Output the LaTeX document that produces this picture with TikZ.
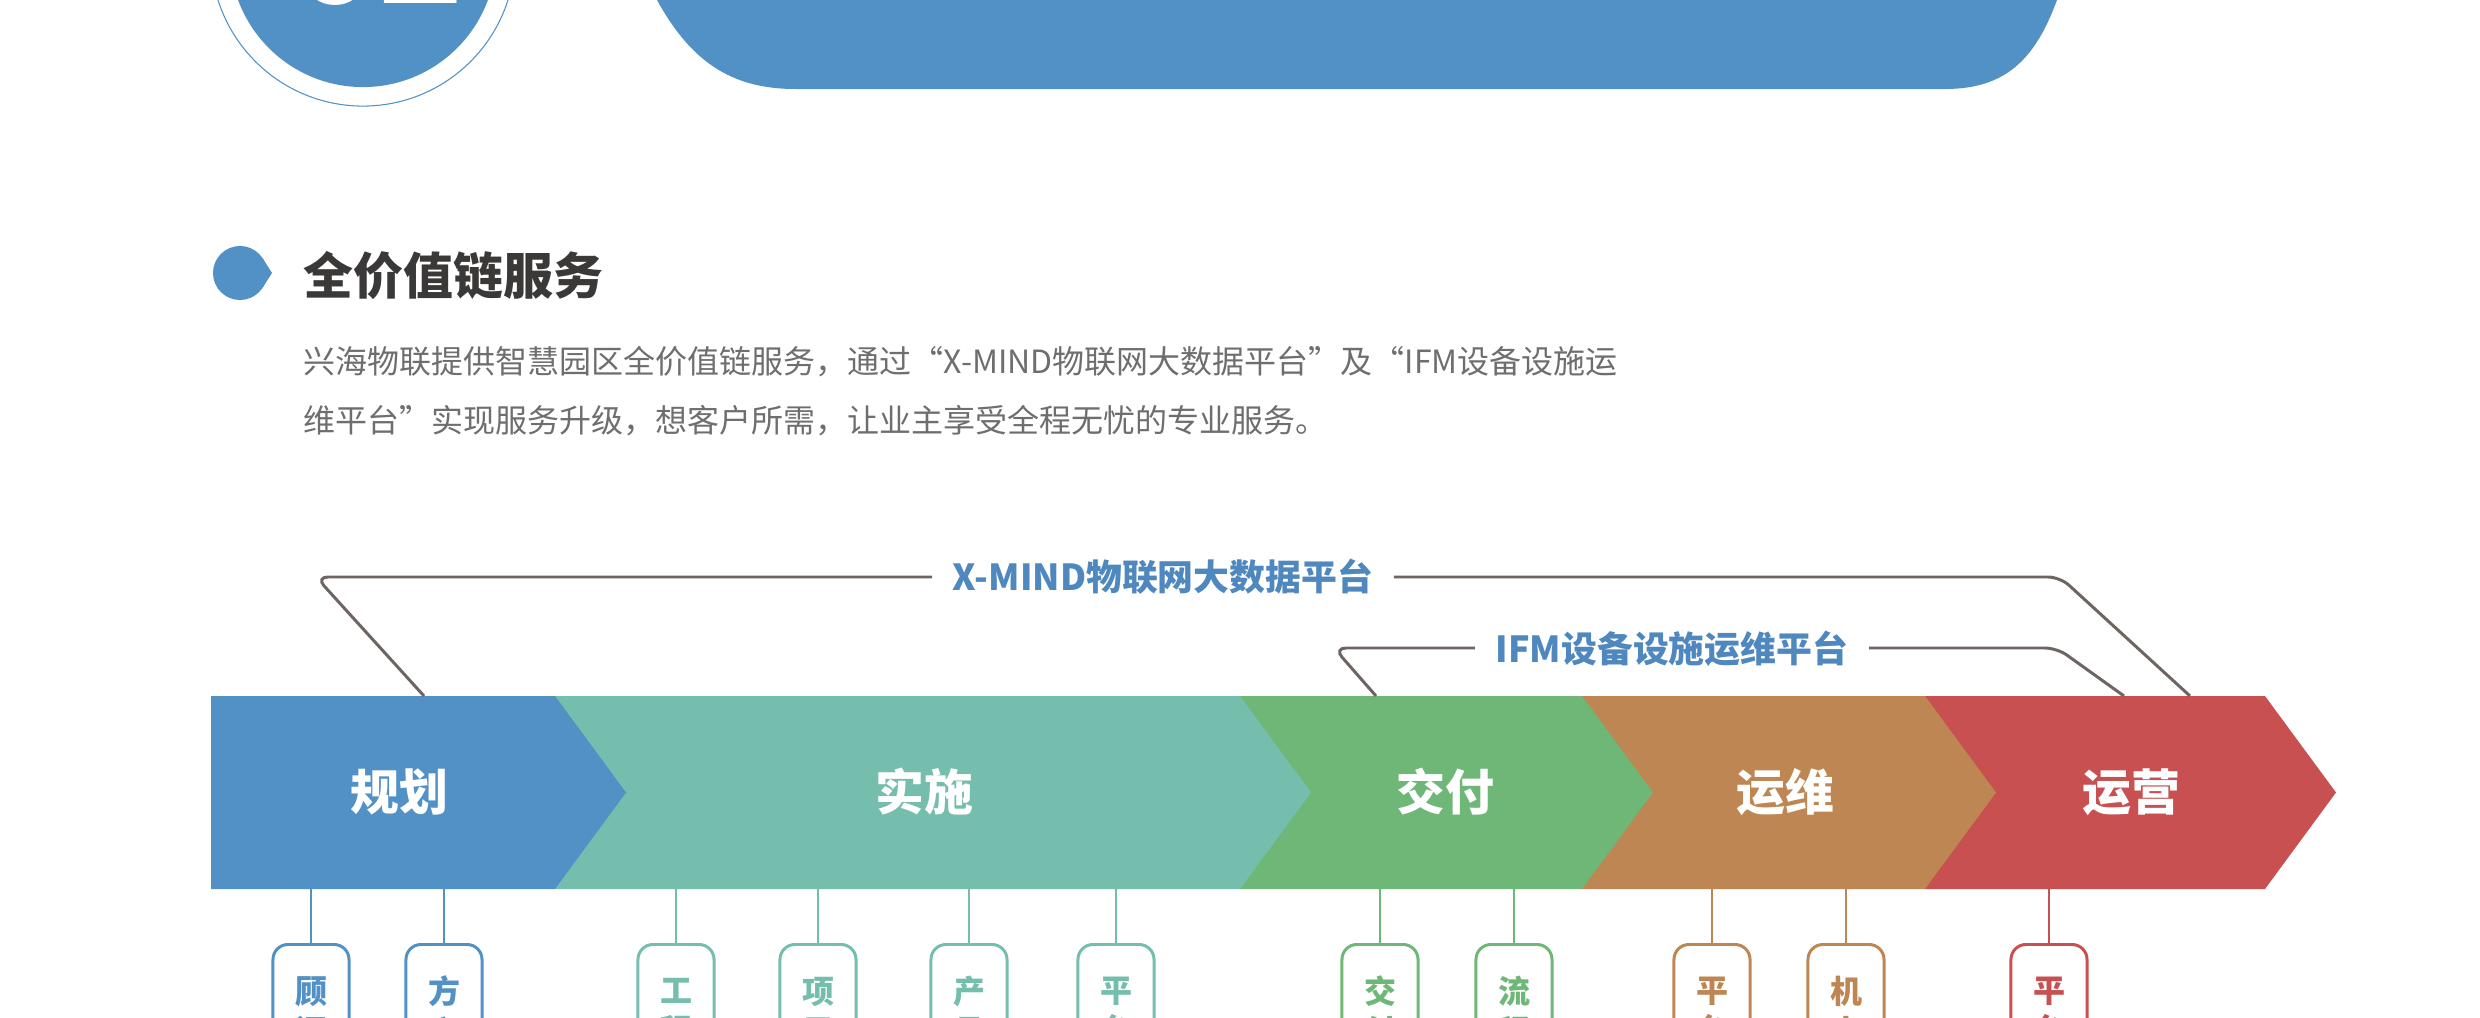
\documentclass[tikz,border=0pt]{standalone}
\usepackage{fontspec}
\setmainfont{Noto Sans CJK SC}
\definecolor{cblue}{HTML}{5291C5}
\definecolor{cteal}{HTML}{75BEAD}
\definecolor{cgreen}{HTML}{6FB777}
\definecolor{cbrown}{HTML}{BE8652}
\definecolor{cred}{HTML}{C85050}
\definecolor{cline}{HTML}{6E6562}
\definecolor{ctitle}{HTML}{3B3838}
\definecolor{ctext}{HTML}{6E6E6E}
\definecolor{ctop}{HTML}{4F88BE}
\begin{document}
\begin{tikzpicture}[x=0.01cm,y=-0.01cm,
  barlabel/.style={text=white,font=\fontsize{13.9}{16}\selectfont\bfseries,inner sep=0pt},
  toplabel/.style={text=ctop,font=\fontsize{10.2}{12}\selectfont\bfseries,inner ysep=0pt,inner xsep=0.2cm},
  platline/.style={draw=cline,line width=0.85pt,rounded corners=0.12cm},
  subbox/.style={draw=#1,text=#1,line width=0.85pt,rounded corners=0.15cm,minimum width=0.76cm,minimum height=1.34cm,anchor=north,align=center,font=\fontsize{9.1}{11.4}\selectfont\bfseries,inner sep=0pt},
  subline/.style={draw=#1,line width=0.6pt},
  paratext/.style={text=ctext,font=\fontsize{9.1}{11}\selectfont,anchor=west,inner sep=0pt}]
\useasboundingbox (0,0) rectangle (2480,1018);
\clip (0,0) rectangle (2480,1018);
\fill[white] (0,0) rectangle (2480,1018);
% header badge
\draw[cblue,line width=0.3pt] (363,-46) circle[radius=1.52cm];
\fill[cblue] (363,-46) circle[radius=1.33cm];
\node[text=white,font=\fontsize{40}{40}\selectfont\bfseries,anchor=base,inner sep=0pt] (num) at (378,4) {02};
% header banner
\fill[cblue] (650,-30) -- (657,0) .. controls (690,60) and (730,89) .. (795,89) -- (1945,89) .. controls (2005,89) and (2035,60) .. (2057,0) -- (2062,-30) -- cycle;
% section title
\fill[cblue] (240,273) circle[radius=0.27cm];
\fill[cblue] (272,273) -- (262.8,258.5) -- (262.8,287.5) -- cycle;
\node[text=ctitle,font=\fontsize{14.2}{16}\selectfont\bfseries,anchor=west,inner sep=0pt] (title) at (303,276) {全价值链服务};
\node[paratext] (p1) at (303,362) {兴海物联提供智慧园区全价值链服务，通过“X-MIND物联网大数据平台”及“IFM设备设施运};
\node[paratext] (p2) at (303,421) {维平台”实现服务升级，想客户所需，让业主享受全程无忧的专业服务。};
% chevrons (right to left so each tip covers the next notch)
\fill[cred] (1925,696) -- (2265,696) -- (2336,792.5) -- (2265,889) -- (1925,889) -- cycle;
\fill[cbrown] (1582,696) -- (1925,696) -- (1996,792.5) -- (1925,889) -- (1582,889) -- cycle;
\fill[cgreen] (1240,696) -- (1582,696) -- (1653,792.5) -- (1582,889) -- (1240,889) -- cycle;
\fill[cteal] (555,696) -- (1240,696) -- (1311,792.5) -- (1240,889) -- (555,889) -- cycle;
\fill[cblue] (211,696) -- (555,696) -- (626,792.5) -- (555,889) -- (211,889) -- cycle;
\node[barlabel] (s1) at (399,792) {规划};
\node[barlabel] (s2) at (924,792) {实施};
\node[barlabel] (s3) at (1445,792) {交付};
\node[barlabel] (s4) at (1785,792) {运维};
\node[barlabel] (s5) at (2131,792) {运营};
% platform brackets
\node[toplabel] (xm) at (1163,577) {X-MIND物联网大数据平台};
\node[toplabel] (ifm) at (1672,649) {IFM设备设施运维平台};
\coordinate (xa) at (424,696);
\coordinate (xb) at (2190,696);
\coordinate (ia) at (1376,696);
\coordinate (ib) at (2124,696);
\draw[platline] (xa) -- (316,577) -- (xm.west |- 0,577);
\draw[platline] (xm.east |- 0,577) -- (2060,577) -- (xb);
\draw[platline] (ia) -- (1334,648) -- (ifm.west |- 0,648);
\draw[platline] (ifm.east |- 0,648) -- (2057,648) -- (ib);
% sub boxes
\node[subbox=cblue] (b1) at (311,943) {顾\\问};
\node[subbox=cblue] (b2) at (444,943) {方\\案};
\node[subbox=cteal] (b3) at (676,943) {工\\程};
\node[subbox=cteal] (b4) at (818,943) {项\\目};
\node[subbox=cteal] (b5) at (969,943) {产\\品};
\node[subbox=cteal] (b6) at (1116,943) {平\\台};
\node[subbox=cgreen] (b7) at (1380,943) {交\\付};
\node[subbox=cgreen] (b8) at (1514,943) {流\\程};
\node[subbox=cbrown] (b9) at (1712,943) {平\\台};
\node[subbox=cbrown] (b10) at (1846,943) {机\\电};
\node[subbox=cred] (b11) at (2049,943) {平\\台};
\foreach \n/\c in {b1/cblue,b2/cblue,b3/cteal,b4/cteal,b5/cteal,b6/cteal,b7/cgreen,b8/cgreen,b9/cbrown,b10/cbrown,b11/cred}{
  \coordinate (t\n) at (\n.north |- 0,889);
  \draw[subline=\c] (t\n) -- (\n.north);
}
\end{tikzpicture}
\end{document}
